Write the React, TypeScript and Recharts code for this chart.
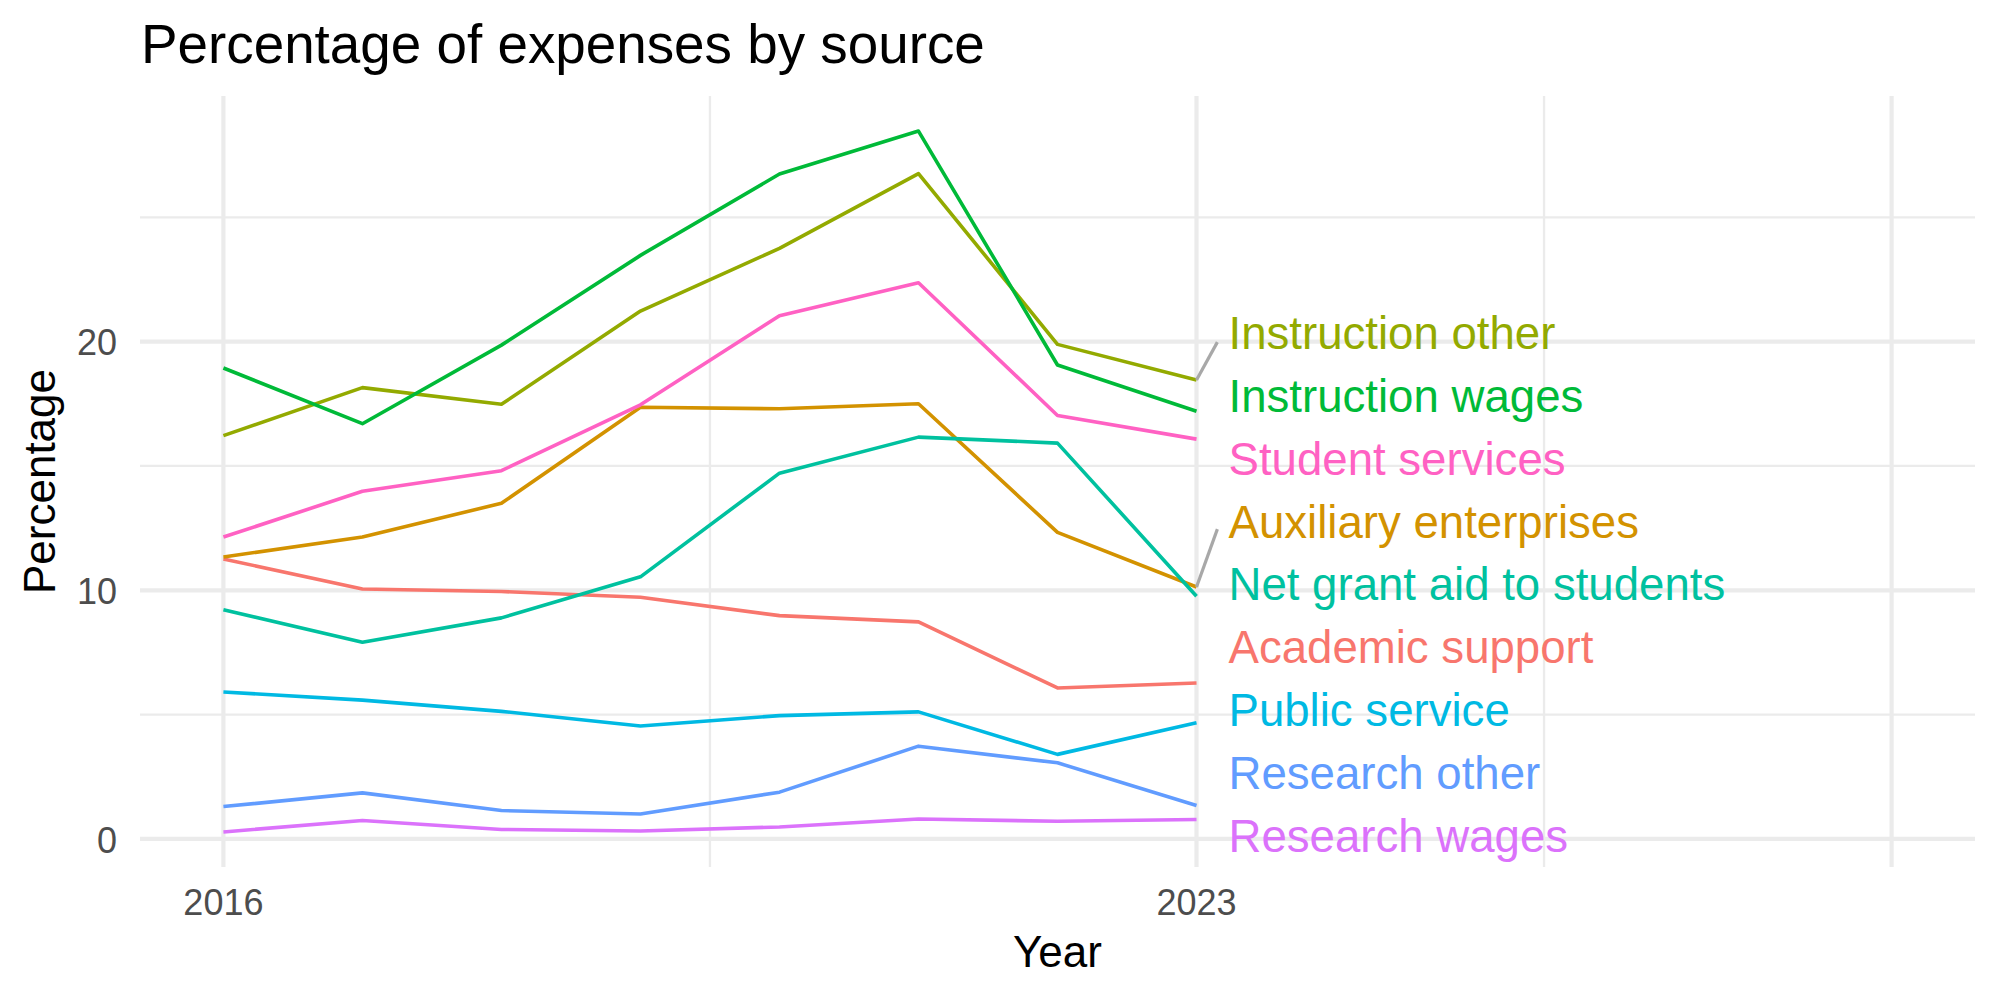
import { Line, LineChart, ReferenceDot, ReferenceLine, XAxis, YAxis } from "recharts";

const FONT = "'Liberation Sans', Arial, Helvetica, sans-serif";

const years = [2016, 2017, 2018, 2019, 2020, 2021, 2022, 2023];

const academicSupport = [11.26, 10.05, 9.95, 9.72, 8.98, 8.73, 6.07, 6.27];
const auxiliaryEnterprises = [11.34, 12.14, 13.5, 17.36, 17.3, 17.5, 12.33, 10.13];
const instructionOther = [16.22, 18.15, 17.48, 21.23, 23.75, 26.76, 19.89, 18.46];
const instructionWages = [18.94, 16.7, 19.86, 23.47, 26.74, 28.47, 19.06, 17.2];
const netGrantAid = [9.22, 7.91, 8.89, 10.54, 14.71, 16.16, 15.92, 9.76];
const publicService = [5.91, 5.58, 5.13, 4.54, 4.96, 5.11, 3.4, 4.67];
const researchOther = [1.3, 1.85, 1.14, 1.0, 1.88, 3.73, 3.06, 1.34];
const researchWages = [0.28, 0.74, 0.38, 0.32, 0.48, 0.8, 0.71, 0.78];
const studentServices = [12.14, 13.98, 14.81, 17.46, 21.04, 22.37, 17.03, 16.08];

const xTicks = [2016, 2023];
const yTicks = [0, 10, 20];
const xMajor = [2016, 2023, 2028];
const xMinor = [2019.5, 2025.5];
const yMajor = [0, 10, 20];
const yMinor = [5, 15, 25];

// repelled label positions (data units) at the right end of each line
const labelX = 2023.23;

type Series = {
  key: string;
  name: string;
  color: string;
  values: number[];
  labelY: number;
  segmentTo?: number;
};

const series: Series[] = [
  { key: "academic", name: "Academic support", color: "#F8766D", values: academicSupport, labelY: 7.72 },
  { key: "auxiliary", name: "Auxiliary enterprises", color: "#D39200", values: auxiliaryEnterprises, labelY: 12.78, segmentTo: 12.46 },
  { key: "instrOther", name: "Instruction other", color: "#93AA00", values: instructionOther, labelY: 20.37, segmentTo: 19.98 },
  { key: "instrWages", name: "Instruction wages", color: "#00BA38", values: instructionWages, labelY: 17.84 },
  { key: "netGrant", name: "Net grant aid to students", color: "#00C19F", values: netGrantAid, labelY: 10.25 },
  { key: "public", name: "Public service", color: "#00B9E3", values: publicService, labelY: 5.19 },
  { key: "resOther", name: "Research other", color: "#619CFF", values: researchOther, labelY: 2.67 },
  { key: "resWages", name: "Research wages", color: "#DB72FB", values: researchWages, labelY: 0.14 },
  { key: "student", name: "Student services", color: "#FF61C3", values: studentServices, labelY: 15.31 },
];

const data = years.map((year, i) => {
  const row: Record<string, number> = { year };
  series.forEach((s) => {
    row[s.key] = s.values[i];
  });
  return row;
});

const last = years.length - 1;

function XTick({ x, y, payload }: any) {
  return (
    <text x={x} y={y + 48} textAnchor="middle" fontSize={36} fill="#4D4D4D" fontFamily={FONT}>
      {payload.value}
    </text>
  );
}

function YTick({ x, y, payload }: any) {
  return (
    <text x={x - 23} y={y} dy="0.38em" textAnchor="end" fontSize={36} fill="#4D4D4D" fontFamily={FONT}>
      {payload.value}
    </text>
  );
}

export default function App() {
  return (
    <div style={{ position: "absolute", left: 0, top: 0, width: 2000, height: 1000, background: "#fff" }}>
      <LineChart width={2000} height={1000} data={data} margin={{ top: 96, right: 25, bottom: 0, left: 0 }}>
        <XAxis
          dataKey="year"
          type="number"
          domain={[2015.4, 2028.6]}
          ticks={xTicks}
          allowDataOverflow
          axisLine={false}
          tickLine={false}
          tickSize={0}
          tickMargin={0}
          height={133}
          tick={<XTick />}
          label={{
            content: ({ viewBox }: any) => (
              <text
                x={viewBox.x + viewBox.width / 2}
                y={viewBox.y + 100}
                textAnchor="middle"
                fontSize={44}
                fill="#000"
                fontFamily={FONT}
              >
                Year
              </text>
            ),
          }}
        />
        <YAxis
          type="number"
          domain={[-1.13, 29.88]}
          ticks={yTicks}
          allowDataOverflow
          axisLine={false}
          tickLine={false}
          tickSize={0}
          tickMargin={0}
          width={140}
          tick={<YTick />}
          label={{
            content: ({ viewBox }: any) => {
              const cx = 55;
              const cy = viewBox.y + viewBox.height / 2;
              return (
                <text
                  x={cx}
                  y={cy}
                  transform={`rotate(-90 ${cx} ${cy})`}
                  textAnchor="middle"
                  fontSize={44}
                  fill="#000"
                  fontFamily={FONT}
                >
                  Percentage
                </text>
              );
            },
          }}
        />
        {yMinor.map((v) => (
          <ReferenceLine key={`ym${v}`} y={v} stroke="#EBEBEB" strokeWidth={2.3} />
        ))}
        {xMinor.map((v) => (
          <ReferenceLine key={`xm${v}`} x={v} stroke="#EBEBEB" strokeWidth={2.3} />
        ))}
        {xMajor.map((v) => (
          <ReferenceLine key={`xM${v}`} x={v} stroke="#EBEBEB" strokeWidth={4.2} />
        ))}
        {yMajor.map((v) => (
          <ReferenceLine key={`yM${v}`} y={v} stroke="#EBEBEB" strokeWidth={4.2} />
        ))}
        {series.map((s) => (
          <Line
            key={s.key}
            type="linear"
            dataKey={s.key}
            stroke={s.color}
            strokeWidth={3.6}
            strokeLinejoin="round"
            dot={false}
            activeDot={false}
            isAnimationActive={false}
          />
        ))}
        {series
          .filter((s) => s.segmentTo !== undefined)
          .map((s) => (
            <ReferenceLine
              key={`seg${s.key}`}
              segment={[
                { x: years[last], y: s.values[last] },
                { x: 2023.15, y: s.segmentTo as number },
              ]}
              stroke="#A8A8A8"
              strokeWidth={3.2}
            />
          ))}
        {series.map((s) => (
          <ReferenceDot
            key={`lbl${s.key}`}
            x={labelX}
            y={s.labelY}
            r={0}
            ifOverflow="visible"
            shape={(p: any) => (
              <text x={p.cx} y={p.cy} dy="0.36em" textAnchor="start" fontSize={45.6} fill={s.color} fontFamily={FONT}>
                {s.name}
              </text>
            )}
          />
        ))}
      </LineChart>
      <svg width={2000} height={90} style={{ position: "absolute", left: 0, top: 0, pointerEvents: "none" }}>
        <text x={141} y={63} fontSize={54.8} fill="#000" fontFamily={FONT}>
          Percentage of expenses by source
        </text>
      </svg>
    </div>
  );
}
